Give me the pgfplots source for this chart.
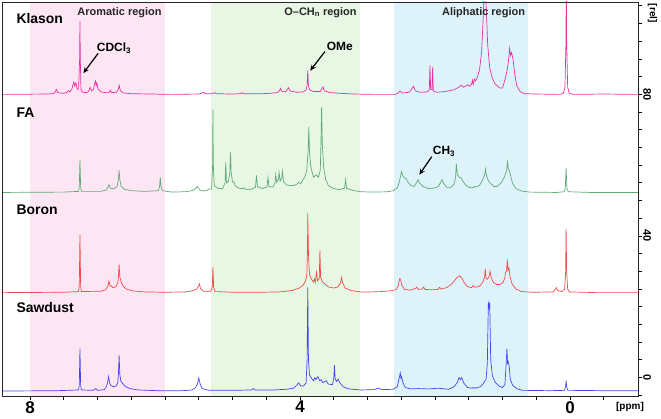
\documentclass[border=0pt]{standalone}
\usepackage{pgfplots}
\pgfplotsset{compat=1.18}
\usepackage{fontspec}
\setmainfont{Liberation Sans}
\usetikzlibrary{arrows.meta}
\definecolor{cKl}{RGB}{228,50,165}
\definecolor{cFA}{RGB}{95,170,120}
\definecolor{cBo}{RGB}{242,75,75}
\definecolor{cSa}{RGB}{70,70,232}
\definecolor{fPink}{RGB}{253,230,243}
\definecolor{fGreen}{RGB}{232,246,228}
\definecolor{fBlue}{RGB}{222,242,250}
\begin{document}
\begin{tikzpicture}
\begin{axis}[
  scale only axis, width=636bp, height=394bp,
  x dir=reverse, xmin=-1.007, xmax=8.415, ymin=-5.2, ymax=106.1,
  axis on top, clip mode=individual, no markers,
  axis line style={black!85, line width=0.9pt},
  tick align=outside, xtick pos=left, ytick pos=right, yticklabel pos=right,
  xtick={8,4,0}, xticklabels={8,4,0},
  minor xtick={-0.5,0,...,8},
  ytick={0,40,80}, yticklabels={0,40,80},
  minor ytick={-5,0,...,105},
  major tick length=4bp, minor tick length=4bp,
  tick style={black, line width=0.8pt},
  xticklabel style={font=\fontsize{17}{17}\selectfont\bfseries, inner sep=1bp},
  yticklabel style={font=\fontsize{11}{11}\selectfont\bfseries, rotate=-90, anchor=south, inner sep=1bp},
]
\fill[fPink] (axis cs:8.0,-5.2) rectangle (axis cs:6.0,106.1);
\fill[fGreen] (axis cs:5.32,-5.2) rectangle (axis cs:3.11,106.1);
\fill[fBlue] (axis cs:2.61,-5.2) rectangle (axis cs:0.63,106.1);

% Klason
\addplot[cKl, line width=0.7pt] coordinates {
(8.415,80.0) (7.75,80.1) (7.66,80.2) (7.63,80.6) (7.61,81.4) (7.59,80.5) (7.50,80.3) (7.45,80.6) (7.43,81.1) (7.41,80.7) (7.38,81.5) (7.36,83.0) (7.35,83.5) (7.335,82.3) (7.32,83.2) (7.30,81.4) (7.28,81.6) (7.265,90) (7.26,100.8) (7.255,90) (7.245,81.3) (7.22,80.6) (7.16,80.5) (7.13,80.9) (7.11,82.0) (7.09,81.0) (7.06,81.4) (7.04,83.2) (7.03,83.8) (7.02,82.5) (7.01,83.2) (6.99,81.5) (6.95,80.7) (6.88,80.5) (6.83,80.5) (6.81,81.2) (6.79,80.5) (6.72,80.6) (6.69,81.5) (6.68,82.6) (6.66,81) (6.62,80.4) (6.5,80.2) (6.2,80.1) (5.9,80.0) (5.50,80.1) (5.46,80.3) (5.43,80.6) (5.40,80.2) (5.30,80.2) (5.27,80.5) (5.24,80.2) (5.0,80.1) (4.88,80.2) (4.86,80.5) (4.84,80.2) (4.55,80.2) (4.45,80.3) (4.33,80.5) (4.30,81.2) (4.29,81.7) (4.27,80.9) (4.22,80.7) (4.19,81.3) (4.17,81.9) (4.15,81.0) (4.05,80.6) (3.95,80.7) (3.91,81.3) (3.895,82.5) (3.885,86.8) (3.875,82.5) (3.86,81.3) (3.80,80.8) (3.70,80.8) (3.68,81.5) (3.66,82.1) (3.64,81.0) (3.55,80.5) (3.40,80.3) (3.2,80.1) (2.9,80.0) (2.6,80.0) (2.55,80.3) (2.52,81.0) (2.49,80.4) (2.38,80.6) (2.34,81.6) (2.32,82.3) (2.29,81.0) (2.22,80.6) (2.12,80.7) (2.085,81.2) (2.075,88.2) (2.065,81.5) (2.045,81.3) (2.035,87.7) (2.025,81.0) (1.98,80.6) (1.85,80.8) (1.72,81.3) (1.65,82.0) (1.61,82.6) (1.58,82.0) (1.53,82.5) (1.51,82.7) (1.49,82.3) (1.46,82.8) (1.445,84.0) (1.435,82.8) (1.415,84.3) (1.40,83.8) (1.37,85.0) (1.34,87.0) (1.31,92) (1.29,100) (1.27,110) (1.26,112) (1.24,104) (1.22,94) (1.19,87.5) (1.15,84.5) (1.11,83.0) (1.07,82.3) (1.04,81.8) (1.00,81.8) (0.96,84.4) (0.93,87.0) (0.905,90.5) (0.895,93.0) (0.88,91.0) (0.865,91.8) (0.845,90.0) (0.82,86.0) (0.79,82.5) (0.74,80.8) (0.68,80.2) (0.5,80.1) (0.15,80.0) (0.10,80.3) (0.075,82) (0.06,95) (0.055,115) (0.05,95) (0.035,82) (0.01,80.3) (-0.05,80.0) (-0.5,80.1) (-1.007,80.0)
};

% FA
\addplot[cFA, line width=0.7pt] coordinates {
(8.415,52.3) (7.5,52.4) (7.28,52.6) (7.27,54) (7.26,61.5) (7.25,54) (7.24,52.6) (6.95,52.6) (6.87,53.0) (6.84,54.0) (6.83,54.5) (6.81,53.5) (6.76,53.3) (6.71,54.0) (6.69,56) (6.68,58.5) (6.67,56) (6.65,54.0) (6.60,53.2) (6.50,52.8) (6.30,52.6) (6.10,52.8) (6.08,54) (6.07,56.6) (6.06,54) (6.04,52.8) (5.90,52.4) (5.70,52.5) (5.60,52.8) (5.55,53.3) (5.52,54.0) (5.49,53.0) (5.42,52.7) (5.37,53.0) (5.35,53.3) (5.31,53.2) (5.295,60) (5.29,75.7) (5.285,60) (5.27,54.2) (5.22,53.5) (5.15,53.3) (5.11,55) (5.10,60.8) (5.09,55) (5.06,55.5) (5.04,58) (5.03,63.6) (5.02,58) (5.00,55.2) (4.98,55.3) (4.96,54.2) (4.92,53.6) (4.86,53.3) (4.84,53.6) (4.81,53.2) (4.72,53.2) (4.66,53.8) (4.645,57.1) (4.63,53.9) (4.56,53.4) (4.49,53.8) (4.475,56.5) (4.46,54.0) (4.40,53.8) (4.37,55.0) (4.36,57.3) (4.345,55.2) (4.32,56.0) (4.31,57.9) (4.295,55.5) (4.27,56.5) (4.26,58.2) (4.245,55.4) (4.20,54.4) (4.10,54.2) (4.05,54.6) (4.02,55.1) (3.99,54.8) (3.96,55.8) (3.95,56.1) (3.93,56.6) (3.90,58.6) (3.88,64) (3.87,70.8) (3.86,64) (3.845,60.2) (3.83,58.7) (3.80,56.6) (3.77,57.1) (3.76,57.3) (3.73,56.6) (3.70,58.5) (3.69,66) (3.68,76.4) (3.67,66) (3.65,59.5) (3.62,56) (3.58,54.2) (3.50,53.4) (3.42,53.1) (3.34,53.5) (3.325,55.9) (3.31,53.5) (3.22,52.9) (3.10,52.5) (2.90,52.4) (2.70,52.5) (2.62,52.8) (2.56,53.6) (2.53,55.2) (2.51,57.0) (2.495,58.2) (2.48,57.2) (2.46,56.5) (2.43,56.2) (2.40,55.2) (2.36,54.3) (2.31,54.0) (2.27,55.2) (2.25,55.9) (2.23,55.0) (2.18,54.0) (2.10,53.4) (2.02,53.5) (1.95,54.0) (1.915,55.3) (1.895,55.9) (1.87,54.8) (1.82,53.6) (1.77,53.6) (1.72,54.6) (1.695,56.5) (1.685,60.4) (1.67,57.5) (1.64,56.5) (1.61,56.4) (1.59,55.6) (1.55,54.5) (1.49,53.7) (1.44,53.6) (1.415,54.0) (1.39,53.8) (1.34,54.3) (1.29,56.0) (1.26,57.8) (1.253,58.9) (1.245,57.8) (1.22,56.0) (1.18,54.8) (1.155,54.5) (1.13,54.0) (1.08,54.0) (1.02,55.0) (0.97,56.8) (0.94,58.5) (0.925,60.9) (0.915,59.0) (0.9,58.5) (0.88,57.0) (0.85,54.8) (0.80,53.4) (0.72,52.7) (0.60,52.4) (0.20,52.3) (0.09,52.5) (0.07,53.4) (0.058,59.2) (0.046,53.4) (0.025,52.5) (-0.3,52.3) (-1.007,52.3)
};

% Boron
\addplot[cBo, line width=0.7pt] coordinates {
(8.415,24.0) (7.5,24.1) (7.28,24.3) (7.27,26) (7.26,40.3) (7.25,26) (7.24,24.3) (6.95,24.4) (6.88,24.8) (6.855,25.6) (6.84,26.3) (6.83,27.3) (6.815,25.9) (6.80,26.0) (6.77,25.4) (6.73,25.6) (6.70,26.8) (6.69,28.5) (6.68,32.0) (6.67,28.5) (6.65,27.0) (6.62,25.8) (6.57,25.0) (6.48,24.5) (6.30,24.2) (6.00,24.1) (5.70,24.2) (5.60,24.5) (5.53,25.0) (5.50,26.0) (5.49,26.5) (5.475,25.2) (5.43,24.4) (5.32,24.4) (5.30,25.5) (5.29,31.2) (5.28,25.5) (5.26,24.3) (5.0,24.1) (4.6,24.1) (4.3,24.2) (4.12,24.6) (4.02,25.2) (3.96,26.0) (3.92,27.2) (3.90,28.8) (3.89,35) (3.885,46.4) (3.875,35) (3.86,29.2) (3.83,27.8) (3.80,27.0) (3.785,27.8) (3.775,26.9) (3.755,29.8) (3.74,27.3) (3.715,28.0) (3.705,36.0) (3.695,28.3) (3.67,27.2) (3.64,26.6) (3.58,25.6) (3.50,25.3) (3.44,25.6) (3.40,26.8) (3.385,28.3) (3.37,26.8) (3.33,25.3) (3.25,24.6) (3.10,24.2) (2.95,24.2) (2.80,24.3) (2.67,24.5) (2.58,24.8) (2.545,25.8) (2.53,27.4) (2.52,28.0) (2.505,27.3) (2.49,26.0) (2.45,24.9) (2.36,24.7) (2.29,25.2) (2.27,25.6) (2.25,24.9) (2.19,25.0) (2.17,25.6) (2.15,24.9) (2.04,24.8) (1.96,24.9) (1.935,25.5) (1.91,25.0) (1.83,25.4) (1.76,26.3) (1.71,27.4) (1.68,28.2) (1.65,28.5) (1.635,28.8) (1.62,28.4) (1.60,28.0) (1.57,26.9) (1.52,25.7) (1.46,25.4) (1.435,26.0) (1.41,25.5) (1.34,25.8) (1.29,27.0) (1.265,28.5) (1.255,30.7) (1.245,28.2) (1.225,27.8) (1.20,28.5) (1.185,30.1) (1.17,28.5) (1.14,27.0) (1.09,26.3) (1.04,26.3) (0.99,26.9) (0.965,28.3) (0.955,29.7) (0.94,30.2) (0.93,33.4) (0.92,30.3) (0.905,31.0) (0.89,28.6) (0.86,26.5) (0.80,25.0) (0.72,24.3) (0.55,24.1) (0.25,24.2) (0.215,25.0) (0.20,25.4) (0.185,24.6) (0.12,24.3) (0.08,25) (0.065,30) (0.058,42.0) (0.05,30) (0.035,25) (0.01,24.2) (-0.4,24.0) (-1.007,24.0)
};

% Sawdust
\addplot[cSa, line width=0.7pt] coordinates {
(8.415,-3.8) (7.6,-3.7) (7.28,-3.5) (7.27,-2.0) (7.26,8.2) (7.25,-2.0) (7.24,-3.5) (7.06,-3.6) (7.025,-3.1) (7.00,-3.6) (6.90,-3.4) (6.87,-2.6) (6.85,-1.4) (6.835,0.3) (6.82,-1.6) (6.80,-2.3) (6.76,-2.6) (6.72,-2.3) (6.70,-1.5) (6.69,1.0) (6.68,6.3) (6.67,1.0) (6.655,-1.0) (6.63,-1.6) (6.59,-2.5) (6.52,-3.1) (6.40,-3.5) (6.10,-3.7) (5.75,-3.7) (5.60,-3.5) (5.55,-2.9) (5.52,-1.8) (5.50,-0.1) (5.48,-1.8) (5.45,-3.1) (5.35,-3.6) (5.00,-3.6) (4.72,-3.5) (4.69,-3.1) (4.665,-3.5) (4.40,-3.5) (4.20,-3.3) (4.10,-3.0) (4.05,-2.2) (4.02,-1.5) (3.99,-2.3) (3.95,-2.4) (3.91,-1.5) (3.895,5) (3.885,25.5) (3.875,5) (3.86,0.8) (3.83,-0.2) (3.80,-0.9) (3.78,0.0) (3.765,-0.6) (3.735,0.3) (3.71,-0.9) (3.685,-0.6) (3.665,-1.4) (3.61,-0.9) (3.585,-1.8) (3.555,-1.9) (3.52,-2.0) (3.50,-0.3) (3.49,3.5) (3.48,-0.2) (3.46,-1.1) (3.435,-0.4) (3.41,-1.5) (3.36,-2.6) (3.28,-3.2) (3.10,-3.5) (2.90,-3.4) (2.84,-3.0) (2.78,-3.4) (2.62,-3.3) (2.56,-2.6) (2.535,-0.5) (2.515,1.3) (2.505,-0.2) (2.495,0.3) (2.475,-1.5) (2.44,-2.8) (2.36,-3.2) (2.25,-3.1) (2.10,-3.2) (1.95,-3.0) (1.90,-3.1) (1.80,-3.3) (1.72,-2.6) (1.67,-1.4) (1.645,0.0) (1.625,-0.6) (1.605,0.0) (1.575,-1.5) (1.52,-2.8) (1.45,-3.0) (1.43,-2.8) (1.41,-3.0) (1.33,-2.6) (1.29,-1.8) (1.265,-1.0) (1.245,-0.6) (1.225,4.0) (1.21,21.0) (1.200,20.0) (1.19,21.2) (1.175,5.0) (1.15,0.5) (1.11,-1.3) (1.05,-2.4) (1.00,-2.8) (0.965,-2.0) (0.95,2.5) (0.935,8.2) (0.925,4.0) (0.915,4.5) (0.90,3.0) (0.885,-0.5) (0.85,-2.2) (0.78,-3.2) (0.70,-3.6) (0.30,-3.7) (0.08,-3.6) (0.065,-2.5) (0.058,-0.8) (0.05,-2.5) (0.035,-3.6) (-0.5,-3.7) (-1.007,-3.7)
};

% sample labels
\node[anchor=west, font=\fontsize{14}{14}\selectfont\bfseries] at (axis cs:8.252,101.3) {Klason};
\node[anchor=west, font=\fontsize{14}{14}\selectfont\bfseries] at (axis cs:8.252,74.8) {FA};
\node[anchor=west, font=\fontsize{14}{14}\selectfont\bfseries] at (axis cs:8.252,47.4) {Boron};
\node[anchor=west, font=\fontsize{14}{14}\selectfont\bfseries] at (axis cs:8.252,19.7) {Sawdust};
% region labels
\node[font=\fontsize{11}{11}\selectfont\bfseries, text=black!85] at (axis cs:6.674,103.2) {Aromatic region};
\node[font=\fontsize{11}{11}\selectfont\bfseries, text=black!85] at (axis cs:3.696,103.2) {O–CH\textsubscript{n} region};
\node[font=\fontsize{11}{11}\selectfont\bfseries, text=black!85] at (axis cs:1.281,103.2) {Aliphatic region};
% peak annotations
\node[font=\fontsize{12}{12}\selectfont\bfseries] at (axis cs:6.756,93.1) {CDCl\textsubscript{3}};
\draw[-{Stealth[length=6bp,width=5bp]}, line width=1.2bp] (axis cs:6.99,91.6) -- (axis cs:7.21,86.0);
\node[font=\fontsize{12}{12}\selectfont\bfseries] at (axis cs:3.41,93.7) {OMe};
\draw[-{Stealth[length=6bp,width=5bp]}, line width=1.2bp] (axis cs:3.63,92.1) -- (axis cs:3.85,86.7);
\node[font=\fontsize{12}{12}\selectfont\bfseries] at (axis cs:1.867,64.0) {CH\textsubscript{3}};
\draw[-{Stealth[length=6bp,width=5bp]}, line width=1.2bp] (axis cs:2.049,62.4) -- (axis cs:2.233,57.3);
\end{axis}
\node[rotate=-90, font=\fontsize{10}{10}\selectfont\bfseries] at (650.5bp,382.7bp) {[rel]};
\node[font=\fontsize{10}{10}\selectfont\bfseries] at (628bp,-11bp) {[ppm]};
\pgfresetboundingbox
\path (-2bp,-23bp) rectangle (659bp,396bp);
\end{tikzpicture}
\end{document}
